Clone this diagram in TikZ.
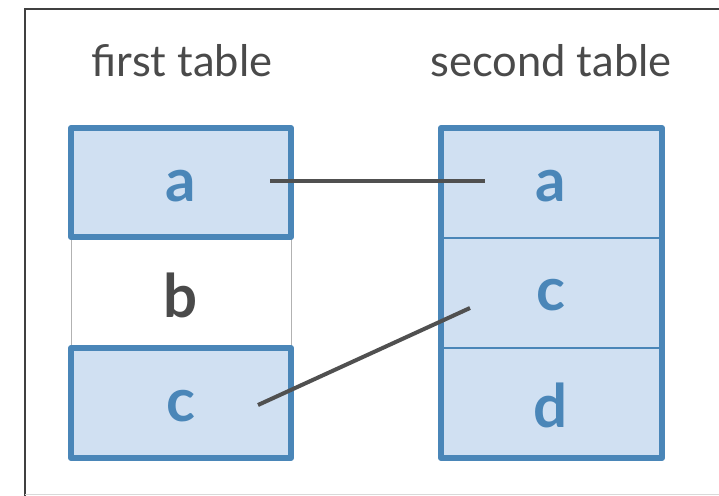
\documentclass[tikz,border=0pt]{standalone}
\usepackage{fontspec}
\setmainfont{Lato}
\begin{document}
\begin{tikzpicture}[x=1pt,y=-1pt,
  cellfill/.style={fill=cellblue},
  keybox/.style={draw=edgeblue,line width=6pt,line join=round},
  rowline/.style={draw=edgeblue,line width=1.2pt},
  plainbox/.style={draw=gray!60,line width=1pt},
  keytext/.style={font=\fontsize{60}{60}\selectfont\bfseries,text=keyblue},
  plaintext/.style={font=\fontsize{60}{60}\selectfont\bfseries,text=textgray},
  header/.style={font=\fontsize{43.5}{43.5}\selectfont,text=textgray},
  link/.style={draw=linkgray,line width=4pt}]
\definecolor{cellblue}{HTML}{D0E0F2}
\definecolor{edgeblue}{HTML}{4A86B8}
\definecolor{keyblue}{HTML}{4A86B8}
\definecolor{textgray}{HTML}{4A4A4A}
\definecolor{linkgray}{HTML}{505050}
\definecolor{framegray}{HTML}{404040}
\useasboundingbox (0,0) rectangle (719,495);
% outer frame
\draw[framegray,line width=2pt] (725,9) -- (25,9) -- (25,500);
\draw[gray!30,line width=1pt] (25,494) -- (725,494);
% headers
\node[header] (h1) at (182,61) {first table};
\node[header] (h2) at (551,61) {second table};
% first table
\path[plainbox,fill=white] (71,237) rectangle (291,348);
\path[cellfill,keybox] (71,128) rectangle (291,237);
\path[cellfill,keybox] (71,348) rectangle (291,458);
\node[keytext] (la) at (181,186) {a};
\node[plaintext] (lb) at (181,295) {b};
\node[keytext] (lc) at (181,406) {c};
% second table
\path[cellfill] (441,128) rectangle (662,458);
\draw[rowline] (441,238) -- (662,238);
\draw[rowline] (441,348) -- (662,348);
\path[keybox] (441,128) rectangle (662,458);
\node[keytext] (ra) at (551,186) {a};
\node[keytext] (rc) at (551,295) {c};
\node[keytext] (rd) at (551,405) {d};
% join links
\coordinate (p1) at (270,181);
\coordinate (q1) at (485,181);
\coordinate (p2) at (258,405);
\coordinate (q2) at (470,308);
\draw[link] (p1) -- (q1);
\draw[link] (p2) -- (q2);
\end{tikzpicture}
\end{document}
